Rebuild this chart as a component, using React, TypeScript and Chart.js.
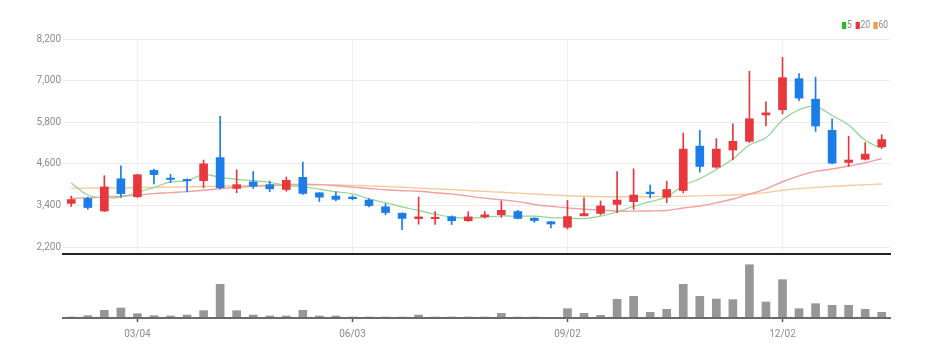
import React, { useEffect, useRef } from 'react';
import { Chart, registerables } from 'chart.js';
Chart.register(...registerables);

const labels = [
  '02/05', '02/12', '02/19', '02/26', '03/04', '03/11', '03/18', '03/25', '04/01', '04/08',
  '04/15', '04/22', '04/29', '05/06', '05/13', '05/20', '05/27', '06/03', '06/10', '06/17',
  '06/24', '07/01', '07/08', '07/15', '07/22', '07/29', '08/05', '08/12', '08/19', '08/26',
  '09/02', '09/09', '09/16', '09/23', '09/30', '10/07', '10/14', '10/21', '10/28', '11/04',
  '11/11', '11/18', '11/25', '12/02', '12/09', '12/16', '12/23', '12/30', '01/06', '01/13',
];
const tickLabels = ['03/04', '06/03', '09/02', '12/02'];
const priceTicks = [2200, 3400, 4600, 5800, 7000, 8200];

const opens = [
  3460, 3600, 3240, 4170, 3650, 4410, 4190, 4150, 4115, 4780,
  3890, 4080, 4000, 3860, 4210, 3765, 3670, 3640, 3555, 3360,
  3175, 3020, 3020, 3075, 2960, 3075, 3130, 3225, 3035, 2930,
  2770, 3100, 3170, 3430, 3510, 3785, 3640, 3830, 5110, 4505,
  5000, 5250, 6010, 6160, 7055, 6465, 5565, 4640, 4730, 5090,
];
const closes = [
  3570, 3340, 3935, 3740, 4285, 4290, 4150, 4110, 4600, 3910,
  4000, 3955, 3880, 4125, 3745, 3640, 3575, 3595, 3395, 3195,
  3025, 3070, 3060, 2960, 3070, 3130, 3260, 3025, 2965, 2865,
  3080, 3165, 3385, 3555, 3700, 3740, 3860, 5025, 4525, 5025,
  5250, 5900, 6070, 7085, 6495, 5690, 4620, 4710, 4880, 5300,
];
const highs = [
  3670, 3640, 4260, 4540, 4300, 4450, 4300, 4165, 4710, 5970,
  4430, 4380, 4100, 4220, 4650, 3770, 3790, 3680, 3600, 3450,
  3190, 3640, 3220, 3100, 3220, 3225, 3530, 3260, 3045, 2940,
  3545, 3620, 3530, 4380, 4455, 3985, 4100, 5490, 5565, 5330,
  5755, 7270, 6390, 7670, 7200, 7100, 5900, 5395, 5215, 5440,
];
const lows = [
  3370, 3290, 3220, 3640, 3630, 4020, 4060, 3790, 3910, 3880,
  3765, 3890, 3795, 3810, 3715, 3510, 3530, 3560, 3360, 3130,
  2700, 2860, 2850, 2850, 2940, 3035, 3055, 3010, 2910, 2750,
  2720, 3100, 3130, 3195, 3290, 3620, 3480, 3765, 4360, 4475,
  4710, 5215, 5690, 6040, 6420, 5535, 4600, 4525, 4710, 5045,
];
const ma5 = [
  4050, 3700, 3620, 3640, 3774, 3918, 4080, 4115, 4287, 4212,
  4154, 4115, 4069, 3974, 3941, 3869, 3793, 3736, 3590, 3480,
  3357, 3256, 3149, 3062, 3037, 3058, 3096, 3089, 3090, 3049,
  3039, 3020, 3092, 3210, 3377, 3509, 3648, 3976, 4170, 4435,
  4737, 5145, 5354, 5866, 6160, 6248, 5992, 5720, 5279, 5040,
];
const ma20 = [
  3600, 3620, 3640, 3670, 3700, 3740, 3770, 3800, 3840, 3880,
  3920, 3950, 3975, 4000, 4010, 4000, 3970, 3930, 3890, 3852,
  3825, 3811, 3767, 3728, 3668, 3610, 3565, 3511, 3429, 3377,
  3331, 3291, 3267, 3238, 3236, 3241, 3255, 3327, 3383, 3475,
  3586, 3727, 3878, 4084, 4255, 4383, 4451, 4536, 4631, 4753,
];
const ma60 = [
  3900, 3900, 3905, 3910, 3915, 3920, 3928, 3936, 3945, 3955,
  3965, 3975, 3983, 3990, 3995, 3995, 3990, 3980, 3965, 3945,
  3925, 3900, 3878, 3855, 3830, 3805, 3780, 3755, 3730, 3705,
  3680, 3665, 3655, 3650, 3650, 3652, 3657, 3665, 3675, 3690,
  3700, 3730, 3770, 3840, 3885, 3920, 3950, 3975, 3998, 4020,
];
const volumes = [
  25000, 58000, 192000, 250000, 108000, 58000, 50000, 75000, 183000, 842000,
  183000, 75000, 50000, 50000, 192000, 50000, 50000, 25000, 25000, 25000,
  25000, 75000, 25000, 25000, 25000, 25000, 117000, 25000, 25000, 15000,
  233000, 117000, 67000, 467000, 542000, 142000, 217000, 842000, 542000, 475000,
  458000, 1332000, 400000, 958000, 233000, 358000, 317000, 317000, 217000, 142000,
];

const RED = '#e8383d';
const BLUE = '#1a7de8';
const FONT = "Roboto, 'Noto Sans', sans-serif";
const TXT = '#8c8c8c';

export default function App() {
  const priceRef = useRef<HTMLCanvasElement>(null);
  const volRef = useRef<HTMLCanvasElement>(null);

  useEffect(() => {
    const colors = closes.map((c, i) => (c >= opens[i] ? RED : BLUE));
    const isTick = (i: number) => tickLabels.includes(labels[i]);

    const price = new Chart(priceRef.current!, {
      type: 'bar',
      data: {
        labels,
        datasets: [
          {
            type: 'bar',
            data: opens.map((o, i) => [o, closes[i]]) as any,
            backgroundColor: colors,
            barThickness: 8,
            grouped: false,
            order: 1,
          } as any,
          {
            type: 'bar',
            data: lows.map((l, i) => [l, highs[i]]) as any,
            backgroundColor: colors,
            barThickness: 1,
            grouped: false,
            order: 2,
          } as any,
          { type: 'line', label: '5', data: ma5, borderColor: '#8fd68f', borderWidth: 1.2, pointRadius: 0, tension: 0.4, order: 3 } as any,
          { type: 'line', label: '20', data: ma20, borderColor: '#f2a0a0', borderWidth: 1.4, pointRadius: 0, tension: 0.4, order: 4 } as any,
          { type: 'line', label: '60', data: ma60, borderColor: '#f8c99c', borderWidth: 1.4, pointRadius: 0, tension: 0.4, order: 5 } as any,
        ],
      },
      options: {
        animation: false,
        responsive: false,
        maintainAspectRatio: false,
        layout: { padding: { left: 0, right: 42, top: 39, bottom: 5 } },
        plugins: { legend: { display: false }, tooltip: { enabled: false } },
        scales: {
          x: {
            offset: true,
            grid: {
              offset: false,
              drawTicks: false,
              color: (ctx: any) => (isTick(ctx.index) ? '#edf0f3' : 'rgba(0,0,0,0)'),
            },
            border: { color: '#222', width: 2 },
            ticks: { display: false, autoSkip: false },
            afterFit: (s: any) => { s.height = 0; },
          },
          y: {
            min: 2000,
            max: 8200,
            afterBuildTicks: (s: any) => { s.ticks = priceTicks.map((v) => ({ value: v })); },
            grid: { color: '#ebebeb', drawTicks: false },
            border: { display: false },
            ticks: {
              padding: 2,
              color: TXT,
              font: { family: FONT, size: 10 },
              callback: (v: any) => Number(v).toLocaleString('en-US'),
            },
            afterFit: (s: any) => { s.width = 63; },
          },
        },
      } as any,
    });

    const vol = new Chart(volRef.current!, {
      type: 'bar',
      data: {
        labels,
        datasets: [{ data: volumes, backgroundColor: '#979797', barThickness: 8 }],
      },
      options: {
        animation: false,
        responsive: false,
        maintainAspectRatio: false,
        layout: { padding: { left: 63, right: 42, top: 4, bottom: 19 } },
        plugins: { legend: { display: false }, tooltip: { enabled: false } },
        scales: {
          x: {
            offset: true,
            grid: {
              offset: false,
              drawOnChartArea: false,
              drawTicks: true,
              tickLength: 4,
              tickWidth: 1.5,
              tickColor: (ctx: any) => (isTick(ctx.index) ? '#555' : 'rgba(0,0,0,0)'),
            },
            border: { color: '#6a6a6a', width: 2, z: 1 },
            ticks: {
              autoSkip: false,
              maxRotation: 0,
              padding: 6,
              color: TXT,
              font: { family: FONT, size: 10 },
              callback: (_v: any, i: number) => (isTick(i) ? labels[i] : ''),
            },
            afterFit: (s: any) => { s.height = 20; },
          },
          y: { display: false, min: 0, max: 1400000 },
        },
      } as any,
    });

    return () => {
      price.destroy();
      vol.destroy();
    };
  }, []);

  const legendItems = [
    { label: '5', color: '#2dbb2d' },
    { label: '20', color: '#e8383d' },
    { label: '60', color: '#f59a3b' },
  ];

  return (
    <div style={{ position: 'absolute', left: 0, top: 0, width: 932, height: 357, background: '#fff' }}>
      <canvas ref={priceRef} width={932} height={262} style={{ position: 'absolute', left: 0, top: 0, width: 932, height: 262 }} />
      <canvas ref={volRef} width={932} height={99} style={{ position: 'absolute', left: 0, top: 258, width: 932, height: 99 }} />
      <div
        style={{
          position: 'absolute',
          left: 842,
          top: 20,
          display: 'flex',
          alignItems: 'center',
          fontFamily: FONT,
          fontSize: 10,
          lineHeight: '10px',
          color: TXT,
          transform: 'scaleX(0.85)',
          transformOrigin: 'left center',
        }}
      >
        {legendItems.map((it) => (
          <span key={it.label} style={{ display: 'flex', alignItems: 'center', marginRight: 4 }}>
            <span style={{ display: 'inline-block', width: 5, height: 7, background: it.color, marginRight: 1 }} />
            <span>{it.label}</span>
          </span>
        ))}
      </div>
    </div>
  );
}
